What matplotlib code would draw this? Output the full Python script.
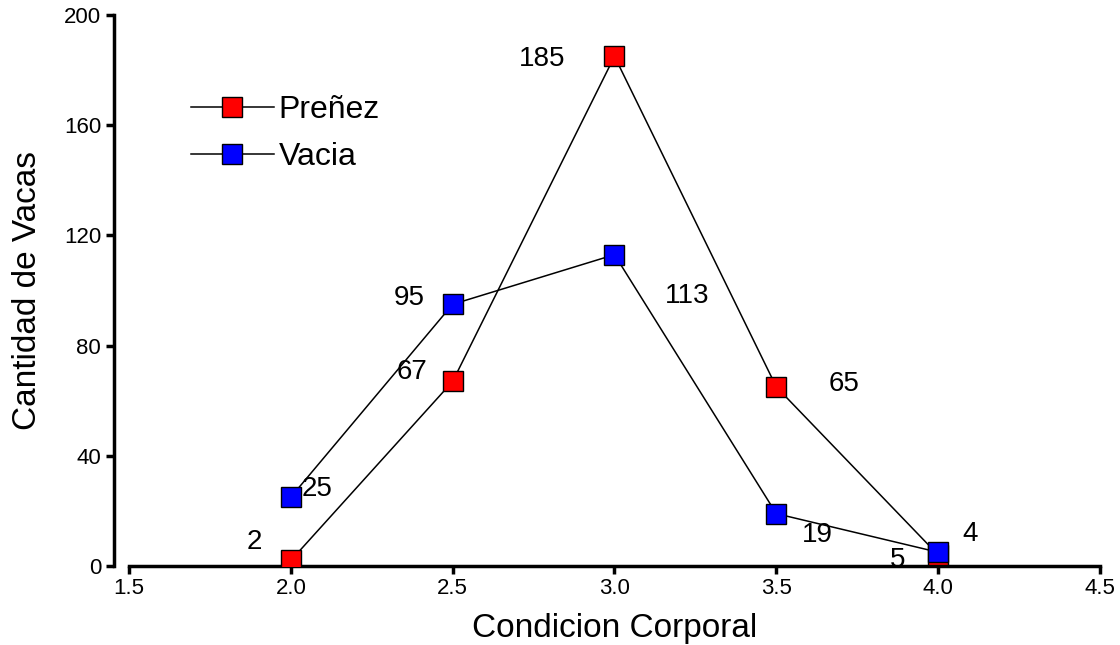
import matplotlib
matplotlib.use("Agg")
import matplotlib.pyplot as plt

plt.rcParams['font.family'] = ['Liberation Sans', 'DejaVu Sans']

condicion = [2.0, 2.5, 3.0, 3.5, 4.0]
prenez = [2, 67, 185, 65, 4]
vacia = [25, 95, 113, 19, 5]
x_ticks = [1.5, 2.0, 2.5, 3.0, 3.5, 4.0, 4.5]
y_ticks = [0, 40, 80, 120, 160, 200]

# label offsets in pixels (dx, dy)
prenez_off = [(-37, 18), (-41, 9), (-72, -3), (68, 3), (32, 21)]
vacia_off = [(26, 8), (-43, 6), (73, -41), (41, -21), (-41, -8)]

fig = plt.figure(figsize=(11.2, 6.45), dpi=100)
ax = fig.add_axes([129/1120, 1 - 566/645, (1100-129)/1120, (566-15)/645])

ax.plot(condicion, prenez, color='black', lw=1.1, marker='s', markersize=14.5,
        markerfacecolor='#ff0000', markeredgecolor='#000000', markeredgewidth=1,
        label='Preñez', zorder=3)
ax.plot(condicion, vacia, color='black', lw=1.1, marker='s', markersize=14.5,
        markerfacecolor='#0000ff', markeredgecolor='#000000', markeredgewidth=1,
        label='Vacia', zorder=4)

for x, y, off in zip(condicion, prenez, prenez_off):
    ax.annotate(str(y), (x, y), xytext=off, textcoords='offset pixels',
                ha='center', va='center', fontsize=20)
for x, y, off in zip(condicion, vacia, vacia_off):
    ax.annotate(str(y), (x, y), xytext=off, textcoords='offset pixels',
                ha='center', va='center', fontsize=20)

ax.set_xlim(1.5, 4.5)
ax.set_ylim(0, 200)
ax.set_xticks(x_ticks)
ax.set_xticklabels([f"{v:.1f}" for v in x_ticks])
ax.set_yticks(y_ticks)
ax.set_yticklabels([str(v) for v in y_ticks])

for s in ['top', 'right']:
    ax.spines[s].set_visible(False)
ax.spines['left'].set_position(('outward', 11))
ax.spines['left'].set_linewidth(2.5)
ax.spines['bottom'].set_linewidth(2.5)
ax.tick_params(axis='both', width=2.5, length=6, labelsize=16, pad=3)

ax.set_xlabel('Condicion Corporal', fontsize=24, labelpad=10)
ax.set_ylabel('Cantidad de Vacas', fontsize=24, labelpad=15)

leg = ax.legend(loc='upper left', bbox_to_anchor=(162/1120, 1 - 66/645),
                bbox_transform=fig.transFigure, frameon=False, fontsize=23,
                handlelength=2.6, handletextpad=0.15, labelspacing=0.55)

fig.savefig('out.png', dpi=100)
